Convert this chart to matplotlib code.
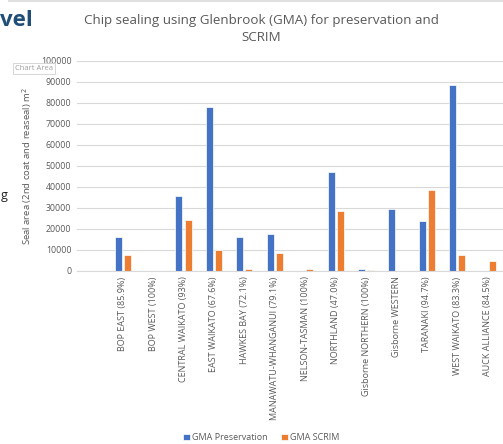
import matplotlib.pyplot as plt
import numpy as np
from matplotlib.patches import Rectangle

plt.rcParams["font.family"] = ["Open Sans", "DejaVu Sans"]

regions = ["BOP EAST (85.9%)", "BOP WEST (100%)", "CENTRAL WAIKATO (93%)",
           "EAST WAIKATO (67.6%)", "HAWKES BAY (72.1%)", "MANAWATU-WHANGANUI (79.1%)",
           "NELSON-TASMAN (100%)", "NORTHLAND (47.0%)", "Gisborne NORTHERN (100%)",
           "Gisborne WESTERN", "TARANAKI (94.7%)", "WEST WAIKATO (83.3%)",
           "AUCK ALLIANCE (84.5%)"]
preservation = [16000, 0, 35400, 77800, 15900, 17600, 0, 47300, 1000, 29500, 23500, 88300, 0]
scrim = [7500, 0, 24000, 9700, 700, 8600, 1000, 28700, 600, 0, 38600, 7600, 4900]
y_ticks = list(range(0, 100001, 10000))

text_grey = "#595959"
blue = "#4472C4"
orange = "#ED7D31"

fig = plt.figure(figsize=(5.03, 4.44), dpi=100)
ax = fig.add_axes([0.153, 0.39, 0.847, 0.473])

x = np.arange(len(regions))
w = 0.23
ax.bar(x - 0.15, preservation, w, color=blue, edgecolor="white", linewidth=0.5,
       label="GMA Preservation", zorder=2)
ax.bar(x + 0.15, scrim, w, color=orange, edgecolor="white", linewidth=0.5,
       label="GMA SCRIM", zorder=2)

ax.set_xlim(-1.5, len(regions) - 0.5)
ax.set_ylim(0, 100000)
ax.set_yticks(y_ticks)
ax.set_yticklabels([str(v) for v in y_ticks], fontsize=6.3, color=text_grey)
ax.set_xticks(x)
ax.set_xticklabels(regions, rotation=90, fontsize=6.5, color=text_grey)
ax.tick_params(axis="both", length=0, pad=4)
ax.grid(axis="y", color="#D9D9D9", linewidth=0.8, zorder=0)
for side in ["top", "right", "left"]:
    ax.spines[side].set_visible(False)
ax.spines["bottom"].set_color("#D9D9D9")

ax.set_ylabel("Seal area (2nd coat and reaseal) m$^2$", fontsize=6.8, color=text_grey,
              labelpad=5)

fig.text(0.52, 0.935, "Chip sealing using Glenbrook (GMA) for preservation and\nSCRIM",
         ha="center", va="center", fontsize=9.6, color=text_grey, linespacing=1.35)

fig.legend(loc="center", bbox_to_anchor=(0.52, 0.015), ncol=2, frameon=False,
           fontsize=6.5, handlelength=0.7, handleheight=0.7, columnspacing=1.5,
           handletextpad=0.3, labelcolor=text_grey)

# slide remnants around the chart
fig.text(0.0, 0.953, "vel", ha="left", va="center", fontsize=16, fontweight="bold",
         color="#1F4E79")
fig.text(0.001, 0.56, "g", ha="left", va="center", fontsize=9, color="#222222")
fig.add_artist(Rectangle((0.016, 0.995), 0.984, 0.006, transform=fig.transFigure,
                         color="#E0E0E0", lw=0))
fig.text(0.03, 0.846, "Chart Area", ha="left", va="center", fontsize=5.5, color="#A0A0A0",
         bbox=dict(boxstyle="square,pad=0.3", fc="white", ec="#D0D0D0", lw=0.6))

fig.savefig("out.png", dpi=100)
